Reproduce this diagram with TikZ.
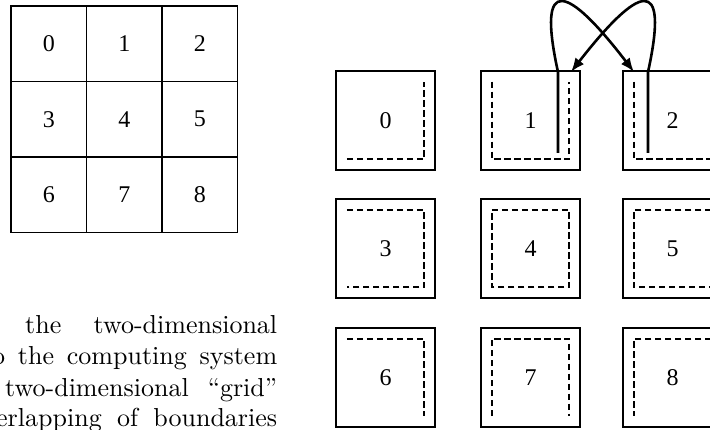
\documentclass[tikz,border=0pt]{standalone}
\usepackage{fontspec}
\newfontfamily\numfont{Liberation Serif}
\newfontfamily\lmten{lmroman10-regular}[Extension=.otf]
\usetikzlibrary{arrows.meta}
\begin{document}
\begin{tikzpicture}[x=1pt,y=-1pt,
  cell/.style={draw, line width=1.6pt, minimum size=75.5pt, inner sep=0pt, font=\numfont\fontsize{24}{28}\selectfont},
  pbox/.style={draw, line width=1.5pt, minimum size=99pt, inner sep=0pt, font=\numfont\fontsize{24}{28}\selectfont},
  bnd/.style={line width=2.1pt, dash pattern=on 6.5pt off 3.5pt},
  conn/.style={line width=2.6pt, -{Latex[length=14pt,width=11pt]}},
  txt/.style={anchor=base west, inner sep=0pt, font=\lmten\fontsize{26}{30}\selectfont}]
\useasboundingbox (0,0) rectangle (710,430);
\clip (0,0) rectangle (710,430);
% left grid
\node[cell] (g0) at (48.75,43.75) {0};
\node[cell] (g1) at (124.25,43.75) {1};
\node[cell] (g2) at (199.75,43.75) {2};
\node[cell] (g3) at (48.75,119.25) {3};
\node[cell] (g4) at (124.25,119.25) {4};
\node[cell] (g5) at (199.75,119.25) {5};
\node[cell] (g6) at (48.75,194.75) {6};
\node[cell] (g7) at (124.25,194.75) {7};
\node[cell] (g8) at (199.75,194.75) {8};
% text
\node[txt] (t1) at (25,334) {\makebox[252pt][s]{the two-dimensional}};
\node[txt] (t2) at (-8,365) {\makebox[285pt][s]{o the computing system}};
\node[txt] (t3) at (5,396) {\makebox[272pt][s]{two-dimensional “grid”}};
\node[txt] (t4) at (-4,427) {\makebox[281pt][s]{erlapping of boundaries}};
% right boxes
\node[pbox] (b0) at (385.5,120.5) {0};
\node[pbox] (b1) at (530.5,120.5) {1};
\node[pbox] (b2) at (672.5,120.5) {2};
\node[pbox] (b3) at (385.5,248.5) {3};
\node[pbox] (b4) at (530.5,248.5) {4};
\node[pbox] (b5) at (672.5,248.5) {5};
\node[pbox] (b6) at (385.5,377.5) {6};
\node[pbox] (b7) at (530.5,377.5) {7};
\node[pbox] (b8) at (672.5,377.5) {8};
\def\d{11.5}
\foreach \b in {0,...,8}{
  \coordinate (NW\b) at ([shift={(\d,\d)}]b\b.north west);
  \coordinate (NE\b) at ([shift={(-\d,\d)}]b\b.north east);
  \coordinate (SE\b) at ([shift={(-\d,-\d)}]b\b.south east);
  \coordinate (SW\b) at ([shift={(\d,-\d)}]b\b.south west);
}
\draw[bnd] (SW0) -- (SE0) -- (NE0);
\draw[bnd] (NW1) -- (SW1) -- (SE1) -- (NE1);
\draw[bnd] (NW2) -- (SW2) -- (SE2);
\draw[bnd] (NW3) -- (NE3) -- (SE3) -- (SW3);
\draw[bnd] (NW4) -- (NE4) -- (SE4) -- (SW4) -- cycle;
\draw[bnd] (NE5) -- (NW5) -- (SW5) -- (SE5);
\draw[bnd] (NW6) -- (NE6) -- (SE6);
\draw[bnd] (SW7) -- (NW7) -- (NE7) -- (SE7);
\draw[bnd] (NE8) -- (NW8) -- (SW8);
% connectors
\coordinate (s1) at (558,153);
\coordinate (u1) at (558,72);
\coordinate (e1) at (634,72);
\coordinate (s2) at (648,153);
\coordinate (u2) at (648,72);
\coordinate (e2) at (571,72);
\draw[conn] (s1) -- (u1) .. controls (536,-28) and (568,-14) .. (e1);
\draw[conn] (s2) -- (u2) .. controls (670,-28) and (638,-14) .. (e2);
\end{tikzpicture}
\end{document}
